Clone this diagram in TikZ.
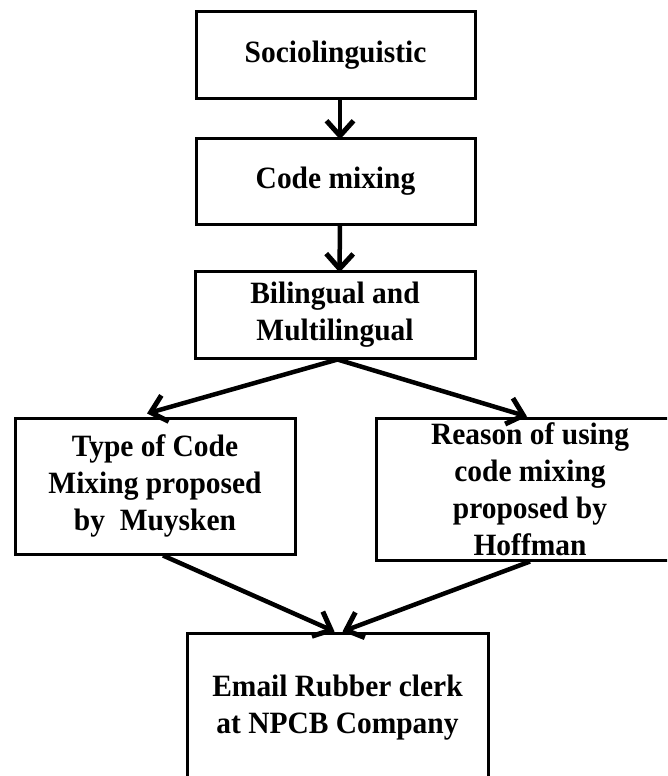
\documentclass[tikz,border=0pt]{standalone}
\usepackage{fontspec}
\setmainfont{Liberation Serif}
\newfontfamily\boxfont[FakeStretch=0.95]{Liberation Serif}
\usetikzlibrary{arrows.meta}
\tikzset{
  box/.style={draw=black, line width=3pt, align=center, inner sep=0pt,
    font=\boxfont\fontsize{31}{37}\selectfont\bfseries},
  arr/.style={line width=4.5pt, -{Straight Barb[length=15pt,width=27pt,line width=5pt]}}
}
\begin{document}
\begin{tikzpicture}[x=1pt,y=-1pt]
\useasboundingbox (0,0) rectangle (667,776);
\clip (0,0) rectangle (667,776);
\node[box, minimum width=279pt, minimum height=86pt] (b1) at (335.5,55) {Sociolinguistic};
\node[box, minimum width=279pt, minimum height=86pt] (b2) at (335.5,181) {Code mixing};
\node[box, minimum width=280pt, minimum height=87pt] (b3) at (335,314.5) {Bilingual and\\Multilingual};
\node[box, minimum width=280pt, minimum height=136pt] (b4) at (155,486) {Type of Code\\Mixing proposed\\by\ \ Muysken};
\node[box, minimum width=308pt, minimum height=142pt] (b5) at (530,489) {Reason of using\\code mixing\\proposed by\\Hoffman};
\node[box, minimum width=301pt, minimum height=150pt] (b6) at (337.5,708) {Email Rubber clerk\\at NPCB Company};
\draw[arr] ([xshift=4.5pt]b1.south) -- ([xshift=4.5pt,yshift=-3pt]b2.north);
\draw[arr] ([xshift=4.5pt]b2.south) -- ([xshift=4.5pt,yshift=-3pt]b3.north);
\draw[arr] ([xshift=2.5pt]b3.south) -- ([xshift=-8pt,yshift=3pt]b4.north);
\draw[arr] ([xshift=2.5pt]b3.south) -- ([xshift=-3pt]b5.north);
\draw[arr] ([xshift=8pt]b4.south) -- ([xshift=-3pt]b6.north);
\draw[arr] (b5.south) -- ([xshift=5pt]b6.north);
\end{tikzpicture}
\end{document}
